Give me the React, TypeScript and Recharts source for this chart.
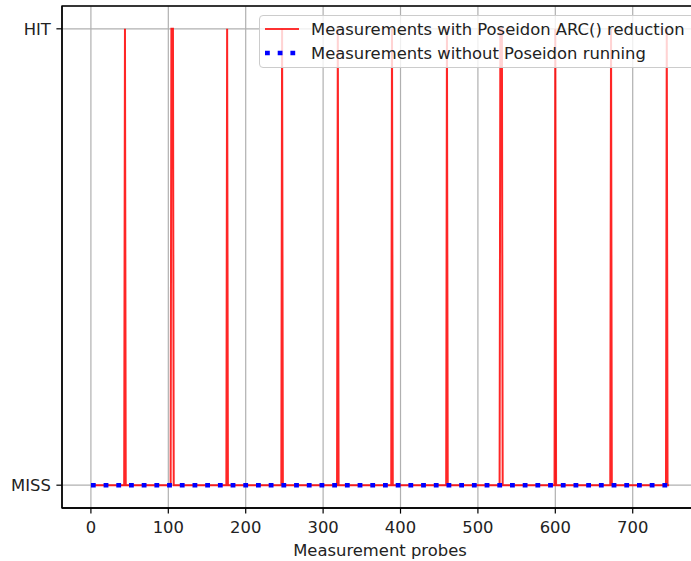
import React from 'react';
import { LineChart, Line, XAxis, YAxis, CartesianGrid, Legend, ReferenceArea } from 'recharts';

const probeCount = 748;
const hitProbes = [44, 104, 105, 106, 176, 247, 319, 389, 460, 529, 530, 531, 600, 672, 744];
const xTicks = [0, 100, 200, 300, 400, 500, 600, 700];
const yTicks = [0, 1];
const yTickLabels = ['MISS', 'HIT'];
const seriesNames = ['Measurements with Poseidon ARC() reduction', 'Measurements without Poseidon running'];
const xDomain = [-37.35, 784.35];
const yDomain = [-0.05, 1.05];

const data = Array.from({ length: probeCount }, (_, i) => ({
  probe: i,
  withArc: hitProbes.includes(i) ? 1 : 0,
  without: 0,
}));

const FONT = 'DejaVu Sans';
const TEXT = '#222';
const FS = 16.4;

const LegendBox = () => (
  <div
    style={{
      background: 'rgba(255,255,255,0.8)',
      border: '1px solid #cccccc',
      borderRadius: 4,
      width: 450,
      height: 53,
      boxSizing: 'border-box',
      fontFamily: FONT,
      fontSize: FS,
      color: TEXT,
    }}
  >
    <svg width={450} height={51} style={{ display: 'block' }}>
      <line x1={5} x2={39} y1={13} y2={13} stroke="red" strokeOpacity={0.8} strokeWidth={2} />
      <text x={51} y={13} dy="0.36em" fontFamily={FONT} fontSize={FS} fill={TEXT}>{seriesNames[0]}</text>
      <line x1={5} x2={39} y1={37} y2={37} stroke="blue" strokeWidth={4.5} strokeDasharray="4.8 7.9" />
      <text x={51} y={37} dy="0.36em" fontFamily={FONT} fontSize={FS} fill={TEXT}>{seriesNames[1]}</text>
    </svg>
  </div>
);

export default function App() {
  return (
    <div style={{ position: 'absolute', left: 0, top: 0, fontFamily: FONT }}>
      <LineChart width={720} height={561} data={data} margin={{ top: 6, right: 22, left: 0, bottom: 0 }}>
        <CartesianGrid stroke="#b0b0b0" strokeWidth={1.2} />
        <XAxis
          dataKey="probe"
          type="number"
          domain={xDomain}
          ticks={xTicks}
          allowDataOverflow
          height={53}
          stroke="#000"
          tickSize={5.6}
          tickMargin={8}
          tick={{ fill: TEXT, fontSize: FS, fontFamily: FONT }}
          tickLine={{ stroke: '#000', strokeWidth: 1.2 }}
          axisLine={{ stroke: '#000', strokeWidth: 1.3 }}
          label={{ value: 'Measurement probes', position: 'insideBottom', offset: 5, fill: TEXT, fontSize: FS, fontFamily: FONT }}
        />
        <YAxis
          type="number"
          domain={yDomain}
          ticks={yTicks}
          allowDataOverflow
          width={62}
          tickSize={5.6}
          tickMargin={5.6}
          tickFormatter={(v: number) => yTickLabels[yTicks.indexOf(v)]}
          tick={{ fill: TEXT, fontSize: FS, fontFamily: FONT }}
          tickLine={{ stroke: '#000', strokeWidth: 1.2 }}
          axisLine={{ stroke: '#000', strokeWidth: 1.3 }}
        />
        <ReferenceArea x1={xDomain[0]} x2={xDomain[1]} y1={yDomain[0]} y2={yDomain[1]} fill="none" stroke="#000" strokeWidth={1.3} />
        <Line
          type="linear"
          dataKey="withArc"
          stroke="red"
          strokeOpacity={0.85}
          strokeWidth={2}
          dot={false}
          activeDot={false}
          isAnimationActive={false}
          name={seriesNames[0]}
        />
        <Line
          type="linear"
          dataKey="without"
          stroke="blue"
          strokeWidth={4.5}
          strokeDasharray="4.8 7.9"
          dot={false}
          activeDot={false}
          isAnimationActive={false}
          name={seriesNames[1]}
        />
        <Legend
          layout="horizontal"
          verticalAlign="middle"
          align="center"
          content={() => <LegendBox />}
          wrapperStyle={{ position: 'absolute', left: 259, top: 15, width: 450, height: 53 }}
        />
      </LineChart>
    </div>
  );
}
